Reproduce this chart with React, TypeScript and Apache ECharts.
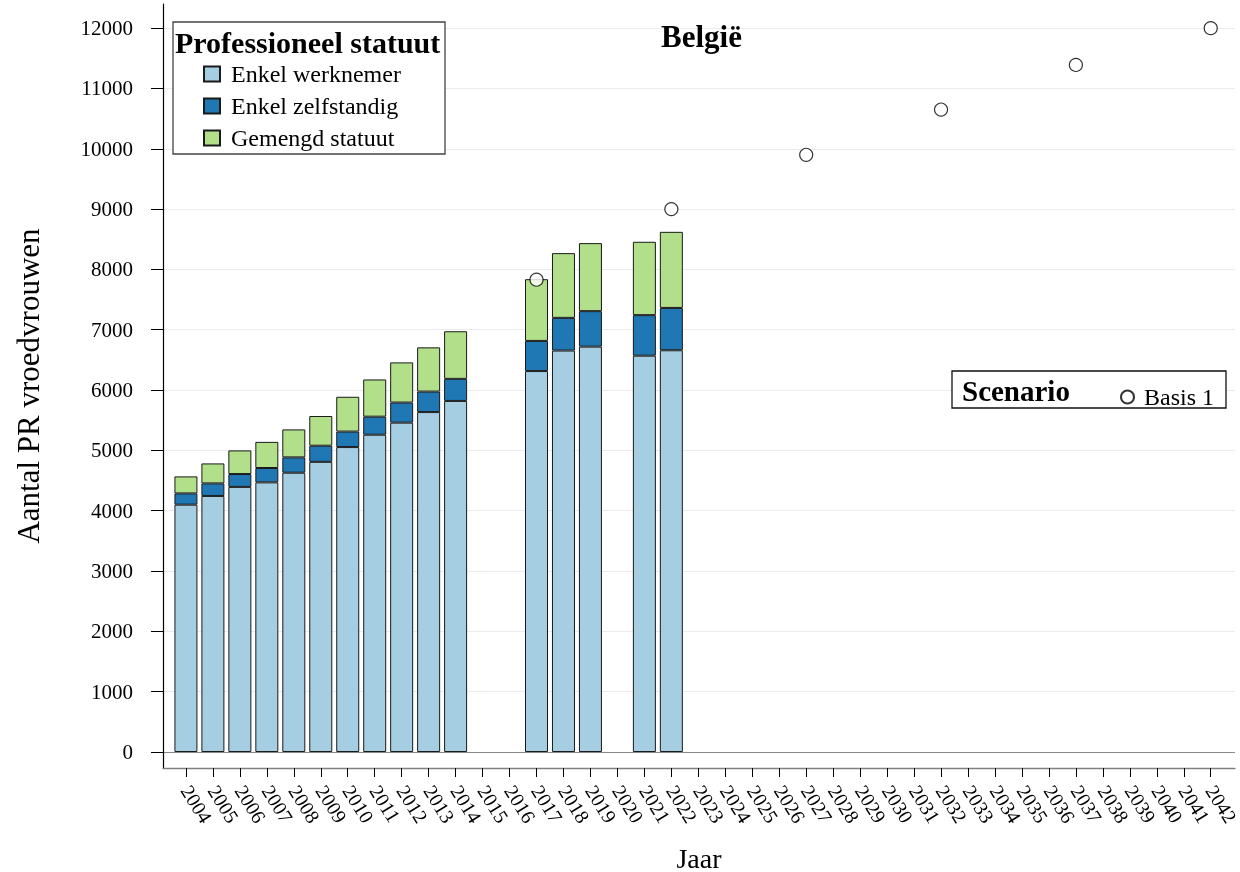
import React, { useEffect, useRef } from 'react';
import * as echarts from 'echarts';

// Years that have observed bars
const years = [2004, 2005, 2006, 2007, 2008, 2009, 2010, 2011, 2012, 2013, 2014, 2017, 2018, 2019, 2021, 2022];
const enkelWerknemer = [4100, 4245, 4395, 4470, 4630, 4810, 5055, 5260, 5460, 5635, 5820, 6315, 6655, 6720, 6570, 6660];
const enkelZelfstandig = [187, 208, 213, 238, 254, 268, 257, 299, 333, 340, 366, 500, 542, 588, 672, 702];
const gemengdStatuut = [282, 331, 392, 433, 464, 492, 577, 617, 666, 733, 789, 1023, 1073, 1128, 1216, 1261];

// Scenario points
const scenarioYears = [2017, 2022, 2027, 2032, 2037, 2042];
const basis1 = [7830, 9000, 9900, 10650, 11390, 12000];

// Tick labels
const xTickYears = [
  2004, 2005, 2006, 2007, 2008, 2009, 2010, 2011, 2012, 2013, 2014, 2015, 2016,
  2017, 2018, 2019, 2020, 2021, 2022, 2023, 2024, 2025, 2026, 2027, 2028, 2029,
  2030, 2031, 2032, 2033, 2034, 2035, 2036, 2037, 2038, 2039, 2040, 2041, 2042,
];
const yTicks = [0, 1000, 2000, 3000, 4000, 5000, 6000, 7000, 8000, 9000, 10000, 11000, 12000];

const seriesNames = ['Enkel werknemer', 'Enkel zelfstandig', 'Gemengd statuut'];
const seriesColors = ['#a6cee3', '#1f78b4', '#b2df8a'];

export default function App() {
  const ref = useRef<HTMLDivElement>(null);

  useEffect(() => {
    const chart = echarts.init(ref.current!, null, { renderer: 'svg' });
    const font = '"Liberation Serif", "Times New Roman", serif';

    const barSeries = (name: string, values: number[], color: string) => ({
      name,
      type: 'bar',
      stack: 'statuut',
      barWidth: 23,
      data: values.map((v, i) => [v, years[i]]),
      encode: { x: 1, y: 0 },
      itemStyle: { color, borderColor: '#1a1a1a', borderWidth: 1 },
    });

    const splitColors = yTicks.map((t) => (t === 0 ? '#8a8a8a' : '#ebebeb'));

    chart.setOption({
      animation: false,
      textStyle: { fontFamily: font, color: '#000' },
      title: {
        text: 'België',
        left: 661,
        top: 21,
        padding: 0,
        textStyle: { fontSize: 31, fontWeight: 'bold', color: '#000', fontFamily: font },
      },
      grid: {
        left: 163,
        right: 5,
        top: 4,
        bottom: 104,
        containLabel: false,
        outerBoundsMode: 'none',
      },
      xAxis: {
        type: 'value',
        min: 2003.15,
        max: 2042.9,
        axisLine: { show: true, onZero: false, lineStyle: { color: '#7f7f7f', width: 1.3 } },
        axisTick: { show: true, customValues: xTickYears, length: 9, lineStyle: { color: '#000' } },
        axisLabel: {
          show: true,
          customValues: xTickYears,
          rotate: -58,
          margin: 19,
          fontSize: 20,
          color: '#000',
          fontFamily: font,
          formatter: (v: number) => String(v),
        },
        splitLine: { show: false },
        name: 'Jaar',
        nameLocation: 'middle',
        nameGap: 76,
        nameTextStyle: { fontSize: 28, lineHeight: 28, color: '#000', fontFamily: font },
      },
      yAxis: {
        type: 'value',
        min: -265,
        max: 12400,
        axisLine: { show: true, onZero: false, lineStyle: { color: '#000', width: 1.2 } },
        axisTick: { show: true, customValues: yTicks, length: 12, lineStyle: { color: '#000' } },
        axisLabel: {
          show: true,
          customValues: yTicks,
          margin: 30,
          fontSize: 21,
          color: '#000',
          fontFamily: font,
          formatter: (v: number) => String(v),
        },
        splitLine: { show: true, lineStyle: { color: splitColors, width: 1 } },
        name: 'Aantal PR vroedvrouwen',
        nameLocation: 'middle',
        nameGap: 119,
        nameTextStyle: { fontSize: 31, color: '#000', fontFamily: font },
      },
      legend: [
        {
          data: seriesNames,
          orient: 'vertical',
          left: 198,
          top: 57,
          itemWidth: 16,
          itemHeight: 15,
          itemGap: 8,
          icon: 'rect',
          selectedMode: false,
          textStyle: { fontSize: 24, lineHeight: 24, color: '#000', fontFamily: font, padding: [0, 0, 0, 6] },
        },
        {
          data: ['Basis 1'],
          orient: 'horizontal',
          left: 1115,
          top: 380,
          itemWidth: 13,
          itemHeight: 13,
          selectedMode: false,
          textStyle: { fontSize: 24, lineHeight: 24, color: '#000', fontFamily: font, padding: [0, 0, 0, 5] },
        },
      ],
      graphic: [
        {
          type: 'rect',
          z: 3,
          shape: { x: 173, y: 22, width: 272, height: 132 },
          style: { fill: '#fff', stroke: '#444', lineWidth: 1.3 },
        },
        {
          type: 'text',
          z: 4,
          x: 175,
          y: 42,
          style: {
            text: 'Professioneel statuut',
            fontSize: 30,
            fontWeight: 'bold',
            fontFamily: font,
            fill: '#000',
            verticalAlign: 'middle',
            width: 269,
            overflow: 'truncate',
            ellipsis: '',
          },
        },
        {
          type: 'rect',
          z: 3,
          shape: { x: 952, y: 371, width: 274, height: 37 },
          style: { fill: '#fff', stroke: '#111', lineWidth: 1.3 },
        },
        {
          type: 'text',
          z: 4,
          x: 962,
          y: 391,
          style: {
            text: 'Scenario',
            fontSize: 29,
            fontWeight: 'bold',
            fontFamily: font,
            fill: '#000',
            verticalAlign: 'middle',
          },
        },
      ],
      series: [
        barSeries(seriesNames[0], enkelWerknemer, seriesColors[0]),
        barSeries(seriesNames[1], enkelZelfstandig, seriesColors[1]),
        barSeries(seriesNames[2], gemengdStatuut, seriesColors[2]),
        {
          name: 'Basis 1',
          type: 'scatter',
          data: scenarioYears.map((y, i) => [y, basis1[i]]),
          symbol: 'circle',
          symbolSize: 13,
          z: 5,
          itemStyle: { color: '#fff', borderColor: '#000', borderWidth: 1.2 },
        },
      ],
    });

    return () => chart.dispose();
  }, []);

  return (
    <div
      ref={ref}
      style={{ position: 'fixed', left: 0, top: 0, width: 1240, height: 872 }}
    />
  );
}
